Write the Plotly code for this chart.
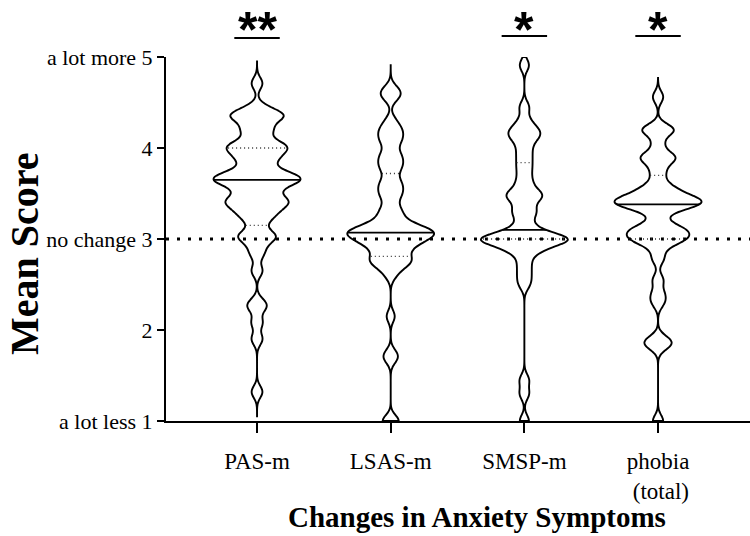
import numpy as np
import plotly.graph_objects as go

# ---------------- data ----------------
CATEGORIES = ["PAS-m", "LSAS-m", "SMSP-m", "phobia<br>\u00a0(total)"]

PAS_LEVELS = [4.71, 4.45, 4.36, 4.28, 4.20, 4.11, 4.02, 3.94, 3.87, 3.79, 3.72, 3.65, 3.58,
              3.50, 3.41, 3.33, 3.25, 3.15, 3.03, 2.93, 2.83, 2.65, 2.30, 2.24, 2.08, 1.90, 1.32]
PAS_COUNTS = [1, 1, 4, 1, 2, 1, 4, 2, 2, 1, 3, 5, 2,
              2, 4, 2, 2, 1, 3, 1, 1, 1, 1, 1, 1, 1, 1]

LSAS_LEVELS = [4.65, 4.60, 4.55, 4.30, 4.20, 4.10, 4.00, 3.90, 3.80, 3.70, 3.60, 3.50, 3.40,
               3.30, 3.20, 3.13, 3.07, 3.00, 2.93, 2.85, 2.77, 2.70, 2.60, 2.15, 1.74, 1.68, 1.00]
LSAS_COUNTS = [1, 1, 1, 1, 2, 2, 1, 2, 2, 1, 2, 2, 1,
               2, 2, 3, 6, 4, 3, 2, 3, 2, 1, 1, 1, 1, 2]

SMSP_LEVELS = [4.91, 4.45, 4.30, 4.20, 4.12, 4.02, 3.93, 3.84, 3.75, 3.65, 3.57, 3.48, 3.40,
               3.30, 3.20, 3.10, 3.00, 2.90, 2.80, 2.70, 2.60, 2.50, 1.45, 1.30, 1.00]
SMSP_COUNTS = [1, 1, 1, 2, 2, 1, 1, 1, 1, 1, 1, 3, 1,
               2, 1, 2, 8, 3, 1, 1, 1, 1, 1, 1, 1]

PHOB_LEVELS = [4.56, 4.20, 4.05, 3.90, 3.80, 3.70, 3.57, 3.48, 3.40, 3.32, 3.20, 3.10, 3.00,
               2.90, 2.78, 2.55, 2.40, 2.30, 1.90, 1.86, 1.82, 1.00]
PHOB_COUNTS = [1, 3, 1, 3, 1, 1, 2, 3, 6, 2, 1, 4, 4,
               1, 1, 1, 1, 1, 1, 1, 1, 1]

SPANS = [[1.04, 4.95], [1.00, 4.92], [1.00, 5.00], [1.00, 4.77]]
MEDIANS = [3.65, 3.07, 3.10, 3.38]
Q1 = [3.15, 2.81, 3.00, 3.00]
Q3 = [4.00, 3.72, 3.84, 3.70]
SIG_LABELS = ["**", "", "*", "*"]

Y_TICKS = [1, 2, 3, 4, 5]
Y_TICKTEXT = ["a lot less 1", "2", "no change 3", "4", "a lot more 5"]

# ---------------- styling / layout constants ----------------
BW = 0.065
VIOLIN_WIDTH = 0.65
X_RANGE = [-0.681, 3.688]
SERIF = "Liberation Serif, Times New Roman, serif"
PLOT_L, PLOT_R, PLOT_T, PLOT_B = 166, 750, 57, 421
W, H = 750, 536


def kde(vals, bw, t):
    t = np.atleast_1d(np.asarray(t, dtype=float))
    u = (t[:, None] - vals[None, :]) / bw
    return np.exp(-0.5 * u * u).sum(axis=1) / (np.sqrt(2 * np.pi) * len(vals) * bw)


def xpaper(x):
    return (x - X_RANGE[0]) / (X_RANGE[1] - X_RANGE[0])


def ypaper(px):
    return (PLOT_B - px) / (PLOT_B - PLOT_T)


groups = [
    (PAS_LEVELS, PAS_COUNTS),
    (LSAS_LEVELS, LSAS_COUNTS),
    (SMSP_LEVELS, SMSP_COUNTS),
    (PHOB_LEVELS, PHOB_COUNTS),
]

fig = go.Figure()

# reference line at "no change"
fig.add_shape(type="line", xref="paper", x0=0, x1=1, yref="y", y0=3, y1=3,
              line=dict(color="black", width=3.2, dash="3px,8px"), layer="above")

for i, (lv, ct) in enumerate(groups):
    vals = np.repeat(np.array(lv, dtype=float), ct)
    span = SPANS[i]
    fig.add_trace(go.Violin(
        y=vals, x0=i, width=VIOLIN_WIDTH, bandwidth=BW,
        spanmode="manual", span=span, points=False,
        fillcolor="white", line=dict(color="black", width=1.9),
        side="both", scalemode="width", scalegroup=f"g{i}",
        box_visible=False, meanline_visible=False,
        hoverinfo="skip", showlegend=False,
    ))
    # replicate plotly's density sampling to size the summary lines
    dist = span[1] - span[0]
    n = int(np.ceil(dist / (BW / 3)))
    grid = np.linspace(span[0], span[1], n + 1)
    kmax = kde(vals, BW, grid).max()

    def half(t):
        return VIOLIN_WIDTH / 2 * kde(vals, BW, t)[0] / kmax

    h = half(MEDIANS[i])
    fig.add_shape(type="line", x0=i - h, x1=i + h, y0=MEDIANS[i], y1=MEDIANS[i],
                  line=dict(color="black", width=1.9), layer="above")
    for q in (Q1[i], Q3[i]):
        h = half(q)
        fig.add_shape(type="line", x0=i - h * 0.95, x1=i + h * 0.95, y0=q, y1=q,
                      line=dict(color="#333333", width=1.3, dash="1px,3px"), layer="above")

# significance markers
SIG_LINE_PX = [38, None, 36, 36]
for i, lab in enumerate(SIG_LABELS):
    if not lab:
        continue
    fig.add_shape(type="line", xref="paper", yref="paper",
                  x0=xpaper(i - 0.17), x1=xpaper(i + 0.17),
                  y0=ypaper(SIG_LINE_PX[i]), y1=ypaper(SIG_LINE_PX[i]),
                  line=dict(color="black", width=2))
    fig.add_annotation(x=i, xref="x", y=ypaper(0), yref="paper",
                       text=f"<b>{lab}</b>", showarrow=False, yanchor="top",
                       font=dict(family="Liberation Sans, Arial, sans-serif", size=50, color="black"))

# axis titles
fig.add_annotation(x=(477 - PLOT_L) / (PLOT_R - PLOT_L), y=ypaper(517), xref="paper", yref="paper",
                   text="<b>Changes in Anxiety Symptoms</b>", showarrow=False,
                   xanchor="center", yanchor="middle",
                   font=dict(family=SERIF, size=29, color="black"))
fig.add_annotation(x=(24 - PLOT_L) / (PLOT_R - PLOT_L), y=ypaper(254), xref="paper", yref="paper",
                   text="<b>Mean Score</b>", showarrow=False, textangle=-90,
                   xanchor="center", yanchor="middle",
                   font=dict(family=SERIF, size=40, color="black"))

fig.update_layout(
    width=W, height=H,
    margin=dict(l=PLOT_L, r=W - PLOT_R, t=PLOT_T, b=H - PLOT_B, pad=0),
    paper_bgcolor="white", plot_bgcolor="white",
    violinmode="overlay",
    showlegend=False,
    xaxis=dict(range=X_RANGE, tickmode="array", tickvals=[0, 1, 2, 3], ticktext=CATEGORIES,
               showline=True, linecolor="black", linewidth=2, ticks="outside", ticklen=10,
               tickwidth=2, tickcolor="black", showgrid=False, zeroline=False,
               ticklabelstandoff=8,
               tickfont=dict(family=SERIF, size=23, color="black")),
    yaxis=dict(range=[1, 5], tickmode="array", tickvals=Y_TICKS, ticktext=Y_TICKTEXT,
               showline=True, linecolor="black", linewidth=2, ticks="outside", ticklen=7,
               tickwidth=2, tickcolor="black", showgrid=False, zeroline=False,
               tickfont=dict(family=SERIF, size=22, color="black")),
)

fig.write_html("out.html", config={"displayModeBar": False},
               post_script="document.body.style.margin='0';document.body.style.overflow='hidden';")
